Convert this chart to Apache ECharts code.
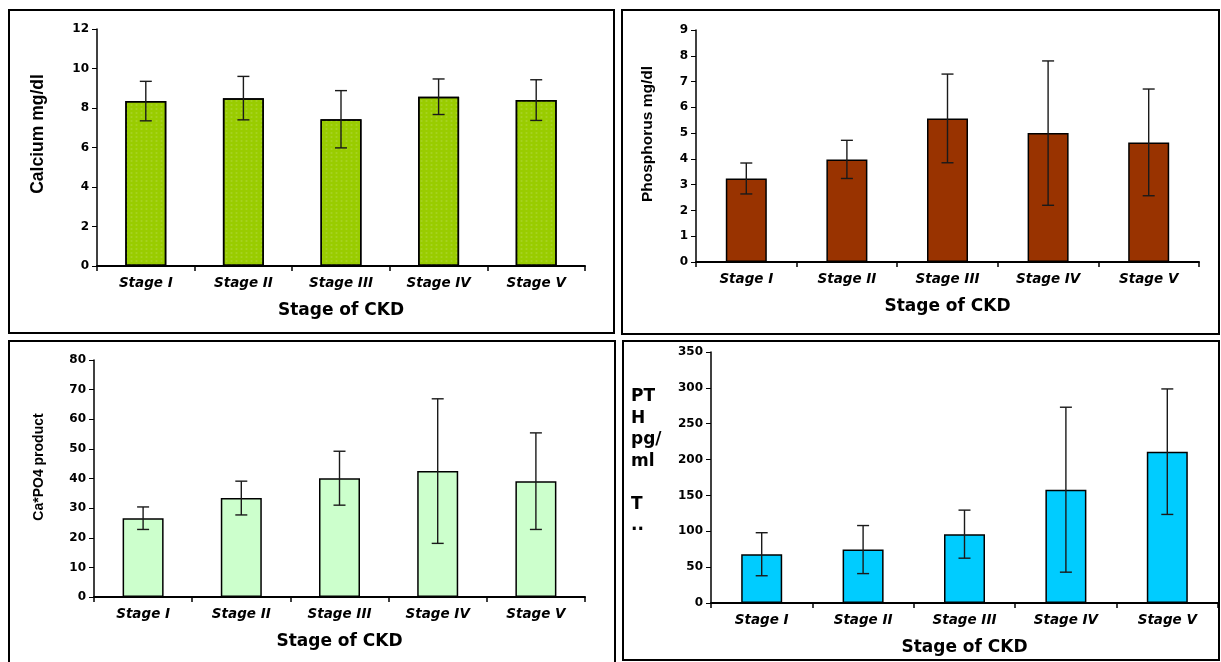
<!DOCTYPE html>
<html>
<head>
<meta charset="utf-8">
<script src="https://cdn.jsdelivr.net/npm/echarts@6/dist/echarts.min.js"></script>
<style>
html,body{margin:0;padding:0;background:#fff;}
#chart{width:1221px;height:662px;}
</style>
</head>
<body>
<div id="chart"></div>
<script>
const categories = ['Stage I', 'Stage II', 'Stage III', 'Stage IV', 'Stage V'];

const calciumMean = [8.35, 8.5, 7.43, 8.57, 8.4];
const calciumSD   = [1.0, 1.1, 1.45, 0.9, 1.03];

const phosMean = [3.24, 3.98, 5.57, 5.0, 4.64];
const phosSD   = [0.6, 0.74, 1.72, 2.8, 2.07];

const caPMean = [26.6, 33.4, 40.1, 42.5, 39.1];
const caPSD   = [3.8, 5.7, 9.1, 24.4, 16.3];

const pthMean = [68, 74.5, 96, 158, 211];
const pthSD   = [30, 33.5, 33.5, 115, 87.5];

const calciumTicks = {min: 0, max: 12, interval: 2};
const phosTicks = {min: 0, max: 9, interval: 1};
const caPTicks = {min: 0, max: 80, interval: 10};
const pthTicks = {min: 0, max: 350, interval: 50};

const WIDE = '"DejaVu Sans", Verdana, sans-serif';
const ARIAL = '"Liberation Sans", Arial, sans-serif';

const grids = [
  {left: 97, top: 29, width: 488, height: 237},
  {left: 696, top: 30, width: 503, height: 232},
  {left: 94, top: 360, width: 491, height: 237},
  {left: 711, top: 352, width: 507, height: 251}
];

function xAxis(i) {
  return {
    type: 'category', gridIndex: i, data: categories,
    name: 'Stage of CKD', nameLocation: 'middle', nameGap: 36,
    nameTextStyle: {fontFamily: WIDE, fontWeight: 'bold', fontSize: 17, color: '#000'},
    axisLine: {lineStyle: {color: '#000', width: 2}},
    axisTick: {show: true, length: 5, lineStyle: {color: '#000', width: 1.5}},
    axisLabel: {fontFamily: WIDE, fontWeight: 'bold', fontStyle: 'italic', fontSize: 13.5, color: '#000', margin: 10},
    splitLine: {show: false}
  };
}
function yAxis(i, t) {
  return {
    type: 'value', gridIndex: i, min: t.min, max: t.max, interval: t.interval,
    axisLine: {show: true, lineStyle: {color: '#000', width: 1.5}},
    axisTick: {show: true, length: 5, lineStyle: {color: '#000', width: 1}},
    axisLabel: {fontFamily: WIDE, fontWeight: 'bold', fontSize: 12, color: '#000', margin: 8},
    splitLine: {show: false}
  };
}

function barSeries(i, data, color, decal) {
  const s = {
    type: 'bar', xAxisIndex: i, yAxisIndex: i, data: data, barWidth: 41,
    itemStyle: {color: color, borderColor: '#000', borderWidth: 1.5},
    silent: true, z: 2
  };
  if (decal) s.itemStyle.decal = decal;
  return s;
}

function errRender(params, api) {
  const x = api.value(0);
  const pLo = api.coord([x, api.value(1)]);
  const pHi = api.coord([x, api.value(2)]);
  const w = 6;
  const style = {stroke: '#1a1a1a', lineWidth: 1.4};
  return {
    type: 'group',
    children: [
      {type: 'line', shape: {x1: pHi[0], y1: pHi[1], x2: pLo[0], y2: pLo[1]}, style: style},
      {type: 'line', shape: {x1: pHi[0] - w, y1: pHi[1], x2: pHi[0] + w, y2: pHi[1]}, style: style},
      {type: 'line', shape: {x1: pLo[0] - w, y1: pLo[1], x2: pLo[0] + w, y2: pLo[1]}, style: style}
    ]
  };
}
function errSeries(i, mean, sd) {
  return {
    type: 'custom', xAxisIndex: i, yAxisIndex: i, renderItem: errRender,
    encode: {x: 0, y: [1, 2]},
    data: mean.map((m, k) => [k, m - sd[k], m + sd[k]]),
    silent: true, z: 5
  };
}

const frameStyle = {stroke: '#000', lineWidth: 2, fill: 'none'};

const option = {
  animation: false,
  backgroundColor: '#fff',
  grid: grids,
  xAxis: [xAxis(0), xAxis(1), xAxis(2), xAxis(3)],
  yAxis: [yAxis(0, calciumTicks), yAxis(1, phosTicks), yAxis(2, caPTicks), yAxis(3, pthTicks)],
  series: [
    barSeries(0, calciumMean, '#99cc00', {symbol: 'rect', symbolSize: 0.6, color: 'rgba(255,255,255,0.22)', dashArrayX: [[3, 2]], dashArrayY: [2, 2], rotation: 0}),
    barSeries(1, phosMean, '#993300'),
    barSeries(2, caPMean, '#ccffcc'),
    barSeries(3, pthMean, '#00ccff'),
    errSeries(0, calciumMean, calciumSD),
    errSeries(1, phosMean, phosSD),
    errSeries(2, caPMean, caPSD),
    errSeries(3, pthMean, pthSD)
  ],
  graphic: [
    {type: 'rect', shape: {x: 9, y: 10, width: 605, height: 323}, style: frameStyle, silent: true},
    {type: 'rect', shape: {x: 622, y: 10, width: 597, height: 324}, style: frameStyle, silent: true},
    {type: 'rect', shape: {x: 9, y: 341, width: 606, height: 322}, style: frameStyle, silent: true},
    {type: 'rect', shape: {x: 623, y: 341, width: 596, height: 319}, style: frameStyle, silent: true},
    {type: 'text', x: 38, y: 134, rotation: Math.PI / 2,
      style: {text: 'Calcium mg/dl', font: 'bold 17.5px ' + ARIAL, fill: '#000', textAlign: 'center', textVerticalAlign: 'middle'}},
    {type: 'text', x: 648, y: 134, rotation: Math.PI / 2,
      style: {text: 'Phosphorus mg/dl', font: 'bold 15.5px ' + ARIAL, fill: '#000', textAlign: 'center', textVerticalAlign: 'middle'}},
    {type: 'text', x: 39, y: 467, rotation: Math.PI / 2,
      style: {text: 'Ca*PO4 product', font: 'bold 14px ' + ARIAL, fill: '#000', textAlign: 'center', textVerticalAlign: 'middle'}},
    {type: 'text', x: 631, y: 386,
      style: {text: 'PT\nH\npg/\nml\n\nT\n..', font: 'bold 17px ' + WIDE, fill: '#000', lineHeight: 21.5, textAlign: 'left', textVerticalAlign: 'top'}}
  ]
};

const chart = echarts.init(document.getElementById('chart'), null, {renderer: 'canvas'});
chart.setOption(option);
</script>
</body>
</html>
